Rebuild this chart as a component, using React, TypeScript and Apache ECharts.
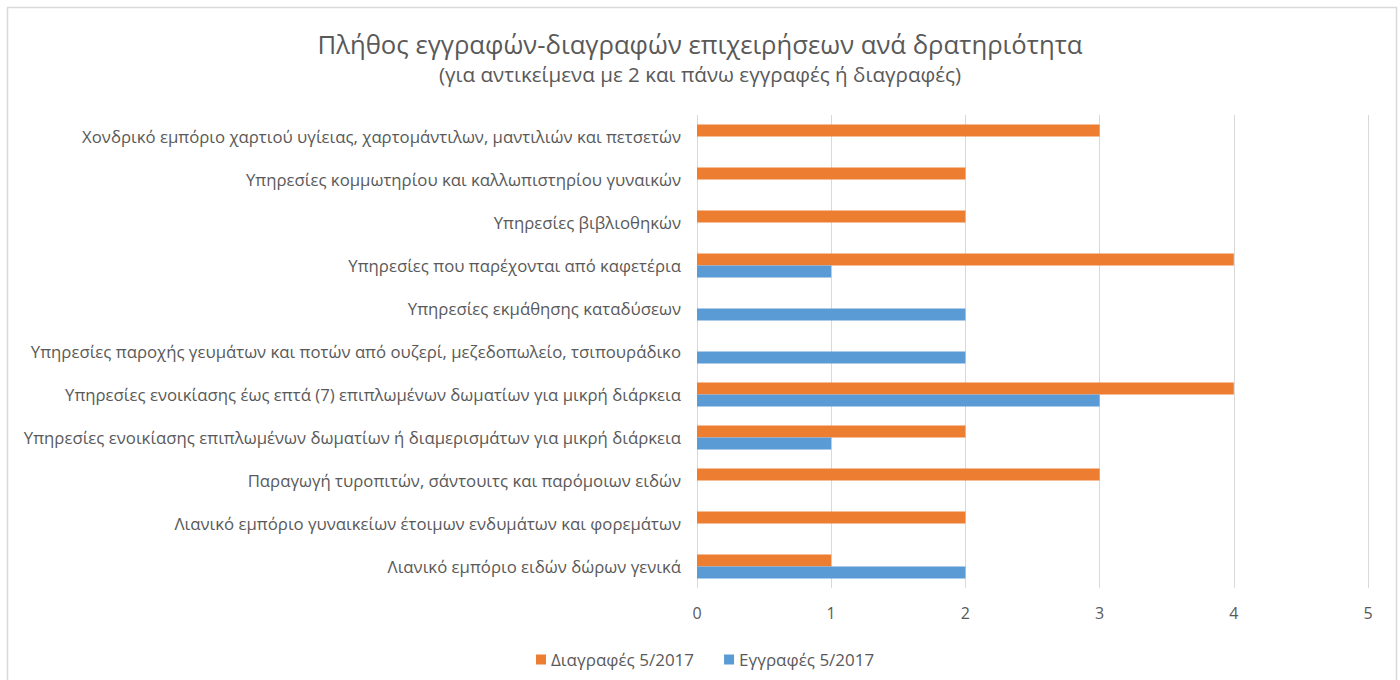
import React, { useEffect, useRef } from "react";
import * as echarts from "echarts";

const categories = [
  "Λιανικό εμπόριο ειδών δώρων γενικά",
  "Λιανικό εμπόριο γυναικείων έτοιμων ενδυμάτων και φορεμάτων",
  "Παραγωγή τυροπιτών, σάντουιτς και παρόμοιων ειδών",
  "Υπηρεσίες ενοικίασης επιπλωμένων δωματίων ή διαμερισμάτων για μικρή διάρκεια",
  "Υπηρεσίες ενοικίασης έως επτά (7) επιπλωμένων δωματίων για μικρή διάρκεια",
  "Υπηρεσίες παροχής γευμάτων και ποτών από ουζερί, μεζεδοπωλείο, τσιπουράδικο",
  "Υπηρεσίες εκμάθησης καταδύσεων",
  "Υπηρεσίες που παρέχονται από καφετέρια",
  "Υπηρεσίες βιβλιοθηκών",
  "Υπηρεσίες κομμωτηρίου και καλλωπιστηρίου γυναικών",
  "Χονδρικό εμπόριο χαρτιού υγίειας, χαρτομάντιλων, μαντιλιών και πετσετών",
];

const deletions = [1, 2, 3, 2, 4, null, null, 4, 2, 2, 3];
const registrations = [2, null, null, 1, 3, 2, 2, 1, null, null, null];

const xTicks = [0, 1, 2, 3, 4, 5];

const titleText = "Πλήθος εγγραφών-διαγραφών επιχειρήσεων ανά δρατηριότητα";
const subtitleText = "(για αντικείμενα με 2 και πάνω εγγραφές ή διαγραφές)";
const deletionsName = "Διαγραφές 5/2017";
const registrationsName = "Εγγραφές 5/2017";

const FONT = "'Open Sans', 'Noto Sans', sans-serif";
const TEXT = "#595959";

export default function App() {
  const ref = useRef<HTMLDivElement>(null);
  useEffect(() => {
    if (!ref.current) return;
    const chart = echarts.init(ref.current, undefined, { renderer: "svg" });
    chart.setOption({
      animation: false,
      backgroundColor: "#ffffff",
      textStyle: { fontFamily: FONT, color: TEXT },
      title: {
        text: titleText,
        subtext: subtitleText,
        left: "center",
        top: 26,
        itemGap: 6,
        textStyle: { fontFamily: FONT, fontSize: 25.7, fontWeight: "normal", color: TEXT },
        subtextStyle: { fontFamily: FONT, fontSize: 20.6, color: TEXT },
      },
      graphic: [
        {
          type: "rect",
          shape: { x: 7.5, y: 7.5, width: 1389, height: 690 },
          style: { fill: "none", stroke: "#d9d9d9", lineWidth: 1.5 },
          silent: true,
        },
      ],
      legend: {
        data: [deletionsName, registrationsName],
        top: 646,
        left: 531,
        icon: "rect",
        itemWidth: 10,
        itemHeight: 10,
        itemGap: 30,
        textStyle: { fontFamily: FONT, fontSize: 17, color: TEXT },
      },
      grid: { left: 697, right: 32, top: 115, bottom: 92, containLabel: false },
      xAxis: {
        type: "value",
        min: xTicks[0],
        max: xTicks[xTicks.length - 1],
        interval: 1,
        axisLine: { show: false },
        axisTick: { show: false },
        axisLabel: { fontFamily: FONT, fontSize: 16, color: TEXT, margin: 17 },
        splitLine: { lineStyle: { color: "#d9d9d9", width: 1 } },
      },
      yAxis: {
        type: "category",
        data: categories,
        axisLine: { show: false },
        axisTick: { show: false },
        axisLabel: { fontFamily: FONT, fontSize: 16.75, color: TEXT, margin: 16 },
      },
      series: [
        {
          name: deletionsName,
          type: "bar",
          data: deletions,
          barWidth: 12,
          barGap: "0%",
          itemStyle: { color: "#ed7d31" },
        },
        {
          name: registrationsName,
          type: "bar",
          data: registrations,
          barWidth: 12,
          barGap: "0%",
          itemStyle: { color: "#5b9bd5" },
        },
      ],
    });
    return () => chart.dispose();
  }, []);
  return (
    <div
      ref={ref}
      style={{ position: "absolute", left: 0, top: 0, width: 1400, height: 680 }}
    />
  );
}
